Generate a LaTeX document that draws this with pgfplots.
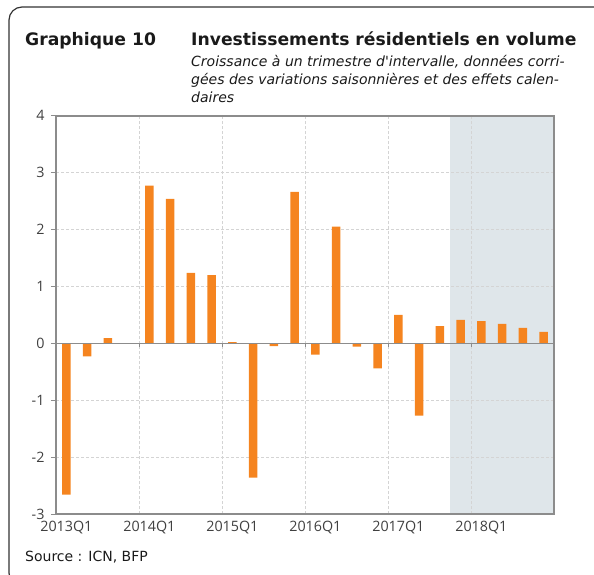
\documentclass[border=0pt]{standalone}
\usepackage{pgfplots}
\pgfplotsset{compat=1.18}
\usepackage{fontspec}
\setmainfont{DejaVu Sans}[Ligatures=TeXOff]
\newfontfamily\tickfont{Open Sans}
\definecolor{barorange}{HTML}{F5841F}
\definecolor{shadecol}{HTML}{DFE6EA}
\definecolor{gridgray}{HTML}{D4D4D4}
\definecolor{axisgray}{HTML}{8C8C8C}
\definecolor{txt}{HTML}{1A1A1A}
\definecolor{ticktxt}{HTML}{404040}
\definecolor{framecol}{HTML}{333333}
\begin{document}
\begin{tikzpicture}
\begin{axis}[
  at={(56pt,-514pt)}, anchor=south west,
  scale only axis, width=498pt, height=398.3pt,
  set layers,
  xmin=0, xmax=24, ymin=-3, ymax=4,
  ytick={-3,-2,-1,0,1,2,3,4},
  yticklabels={-3,-2,-1,0,1,2,3,4},
  xtick={4,8,12,16,20},
  xticklabels={,,,,},
  xmajorgrids, ymajorgrids,
  grid style={dash pattern=on 3pt off 2pt, color=gridgray, line width=0.9pt},
  extra x ticks={0.5,4.5,8.5,12.5,16.5,20.5},
  extra x tick labels={2013Q1,2014Q1,2015Q1,2016Q1,2017Q1,2018Q1},
  extra x tick style={grid=none, major tick length=0pt},
  xtick style={draw=none},
  ytick pos=left,
  ytick style={draw=axisgray, line width=1pt},
  tick align=outside,
  major tick length=5pt,
  axis line style={draw=axisgray, line width=1.6pt},
  tick label style={font=\tickfont\fontsize{14.3}{16}\selectfont, text=ticktxt},
  yticklabel style={xshift=-3pt},
  xticklabel style={yshift=-3.5pt},
]
\addplot[draw=none, fill=shadecol, on layer=axis background] coordinates {(19,-3) (24,-3) (24,4) (19,4)} -- cycle;
\addplot[ybar, bar width=0.4, fill=barorange, draw=none] coordinates {
(0.5,-2.66) (1.5,-0.23) (2.5,0.09) (3.5,0.00) (4.5,2.77) (5.5,2.54)
(6.5,1.24) (7.5,1.20) (8.5,0.02) (9.5,-2.36) (10.5,-0.05) (11.5,2.66)
(12.5,-0.20) (13.5,2.05) (14.5,-0.06) (15.5,-0.44) (16.5,0.50) (17.5,-1.27)
(18.5,0.30) (19.5,0.41) (20.5,0.39) (21.5,0.34) (22.5,0.27) (23.5,0.20)
};
\draw[axisgray, line width=1.6pt] (axis cs:0,0) -- (axis cs:24,0);
\pgfplotsinvokeforeach{4,8,12,16,20}{
  \draw[axisgray, line width=1pt] (axis cs:#1,0) -- ++(0pt,-4pt);
}
\end{axis}
\node[anchor=base west, inner sep=0pt, text=txt, font=\fontsize{17.2}{20}\selectfont\bfseries] at (25pt,-46pt) {Graphique 10};
\node[anchor=base west, inner sep=0pt, text=txt, font=\fontsize{17.2}{20}\selectfont\bfseries] at (191pt,-46pt) {Investissements résidentiels en volume};
\node[anchor=base west, inner sep=0pt, text=txt, font=\fontsize{14}{17}\selectfont\itshape] at (191pt,-67pt) {Croissance à un trimestre d'intervalle, données corri-};
\node[anchor=base west, inner sep=0pt, text=txt, font=\fontsize{14}{17}\selectfont\itshape] at (191pt,-85pt) {gées des variations saisonnières et des effets calen-};
\node[anchor=base west, inner sep=0pt, text=txt, font=\fontsize{14}{17}\selectfont\itshape] at (191pt,-103pt) {daires};
\node[anchor=base west, inner sep=0pt, text=txt, font=\fontsize{14}{17}\selectfont] at (25pt,-561pt) {Source : ICN, BFP};
\draw[rounded corners=13pt, line width=1.2pt, color=framecol] (9pt,-7pt) rectangle (620pt,-586pt);
\pgfresetboundingbox
\useasboundingbox (0,0) rectangle (594pt,-575pt);
\end{tikzpicture}
\end{document}
